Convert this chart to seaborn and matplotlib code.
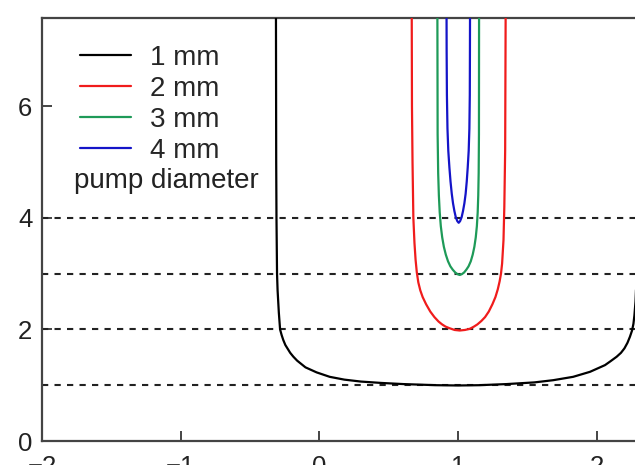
import pandas as pd
import seaborn as sns
import matplotlib.pyplot as plt

# curve samples (x, y) per pump diameter
x_1mm = [-0.313, -0.311, -0.309, -0.305, -0.301, -0.292, -0.283, -0.272, -0.26, -0.245, -0.21,
         -0.187, -0.16, -0.10, -0.02, 0.075, 0.18, 0.30, 0.45, 0.606, 0.846, 1.0, 1.15, 1.35,
         1.55, 1.687, 1.83, 1.952, 2.06, 2.10, 2.144, 2.175, 2.20, 2.222, 2.24, 2.255, 2.265,
         2.272, 2.28, 2.285, 2.29, 2.295, 2.297]
y_1mm = [8.0, 5.0, 4.0, 3.0, 2.7, 2.3, 2.0, 1.9, 1.81, 1.72, 1.58,
         1.51, 1.44, 1.32, 1.23, 1.15, 1.10, 1.065, 1.04, 1.02, 1.0, 0.995, 1.0, 1.02,
         1.05, 1.09, 1.15, 1.24, 1.36, 1.43, 1.51, 1.58, 1.66, 1.76, 1.87, 1.98, 2.1,
         2.25, 2.5, 2.8, 3.2, 5.0, 8.0]

x_2mm = [0.666, 0.668, 0.672, 0.678, 0.686, 0.694, 0.703, 0.714, 0.728, 0.745, 0.77, 0.80,
         0.83, 0.86, 0.885, 0.91, 0.94, 0.975, 1.012, 1.05, 1.085, 1.115, 1.14, 1.168,
         1.195, 1.222, 1.248, 1.27, 1.287, 1.30, 1.31, 1.318, 1.328, 1.334, 1.34, 1.344]
y_2mm = [8.0, 6.0, 5.0, 4.0, 3.55, 3.25, 3.02, 2.84, 2.7, 2.58, 2.45, 2.32,
         2.22, 2.14, 2.09, 2.05, 2.02, 1.99, 1.98, 1.99, 2.01, 2.05, 2.09, 2.15,
         2.22, 2.32, 2.45, 2.58, 2.72, 2.86, 3.0, 3.18, 3.6, 4.2, 5.2, 8.0]

x_3mm = [0.851, 0.853, 0.857, 0.862, 0.868, 0.876, 0.886, 0.898, 0.912, 0.928, 0.945,
         0.962, 0.98, 0.996, 1.012, 1.028, 1.044, 1.06, 1.076, 1.092, 1.106, 1.118,
         1.128, 1.136, 1.142, 1.146, 1.149, 1.151, 1.152]
y_3mm = [8.0, 5.5, 4.8, 4.4, 4.1, 3.85, 3.65, 3.48, 3.34, 3.22, 3.13,
         3.07, 3.02, 2.99, 2.975, 2.99, 3.02, 3.07, 3.13, 3.22, 3.34, 3.48,
         3.65, 3.85, 4.1, 4.4, 4.8, 5.5, 8.0]

x_4mm = [0.917, 0.918, 0.920, 0.924, 0.930, 0.938, 0.946, 0.955, 0.964, 0.974, 0.984, 0.995,
         1.005, 1.015, 1.026, 1.036, 1.046, 1.055, 1.063, 1.07, 1.077, 1.082, 1.085, 1.086, 1.087]
y_4mm = [8.0, 7.0, 6.2, 5.6, 5.2, 4.9, 4.65, 4.43, 4.26, 4.12, 4.01, 3.94,
         3.91, 3.94, 4.01, 4.12, 4.26, 4.43, 4.65, 4.9, 5.2, 5.6, 6.2, 7.0, 8.0]

diameters = ['1 mm', '2 mm', '3 mm', '4 mm']
colors = ['black', '#f01c1c', '#1e9a58', '#1414c8']
levels = [1, 2, 3, 4]
x_ticks = [-2, -1, 0, 1, 2]
y_ticks = [0, 2, 4, 6]

frames = []
for label, xs, ys in zip(diameters, [x_1mm, x_2mm, x_3mm, x_4mm], [y_1mm, y_2mm, y_3mm, y_4mm]):
    frames.append(pd.DataFrame({'x': xs, 'y': ys, 'diameter': label}))
df = pd.concat(frames, ignore_index=True)

sns.set_theme(style='ticks')
plt.rcParams['font.family'] = ['Liberation Sans', 'DejaVu Sans']

fig = plt.figure(figsize=(6.35, 4.65), dpi=100)
ax = fig.add_axes([0.0661, 0.0516, 0.95, 0.9097])

# dashed reference levels
for lv in levels:
    ax.axhline(lv, color='#222222', lw=1.5, dashes=(3, 3), zorder=1)

sns.lineplot(data=df, x='x', y='y', hue='diameter', palette=colors, sort=False,
             estimator=None, lw=1.6, ax=ax, zorder=3)

ax.set_xlim(-2, 2.35)
ax.set_ylim(0, 7.58)
ax.set_xticks(x_ticks)
ax.set_yticks(y_ticks)
ax.set_xlabel('')
ax.set_ylabel('')
ax.tick_params(direction='in', length=7, width=1.4, color='#444444',
               labelsize=18.5, pad=7, labelcolor='#222222')
ax.tick_params(axis='x', pad=10)
for side in ['left', 'bottom', 'top', 'right']:
    ax.spines[side].set_color('#444444')
    ax.spines[side].set_linewidth(1.6)

handles, labels = ax.get_legend_handles_labels()
ax.legend(handles, labels, loc='upper left', bbox_to_anchor=(0.045, 0.962), frameon=False,
          fontsize=20, handlelength=1.84, handletextpad=0.68, labelspacing=0.18,
          borderaxespad=0.0)
ax.text(0.053, 0.615, 'pump diameter', transform=ax.transAxes, fontsize=20,
        color='#222222', va='center', ha='left')

fig.savefig('out.png', dpi=100)
